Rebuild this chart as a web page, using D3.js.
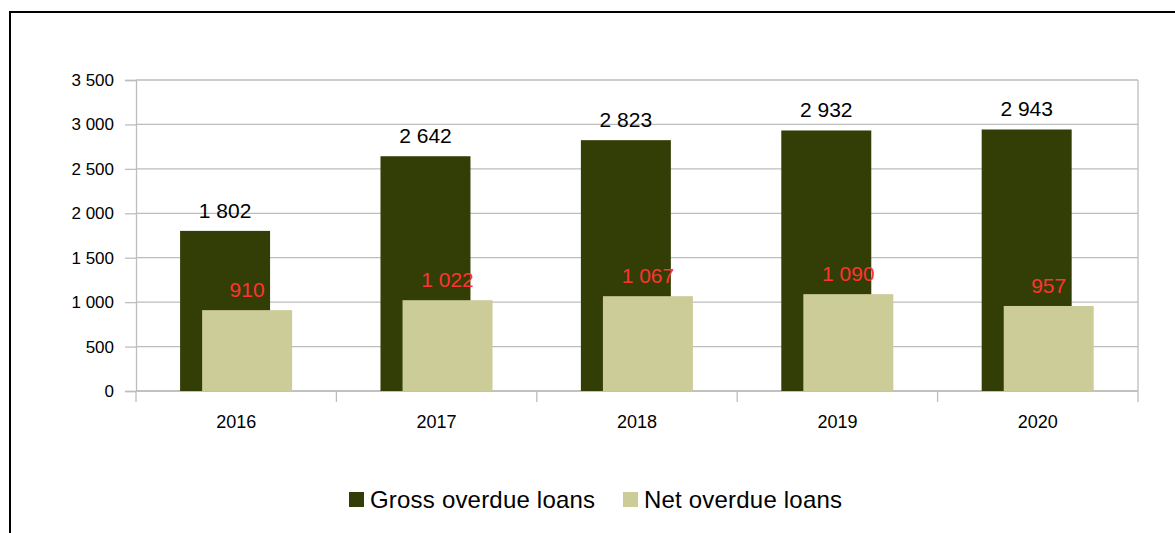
<!DOCTYPE html>
<html>
<head>
<meta charset="utf-8">
<script src="https://cdn.jsdelivr.net/npm/d3@7"></script>
<style>
  html, body { margin: 0; padding: 0; background: #fff; }
  svg { display: block; font-family: "Liberation Sans", Arial, sans-serif; }
</style>
</head>
<body>
<svg id="chart" width="1175" height="533"></svg>
<script>
// Overdue loans by year
const years = ["2016", "2017", "2018", "2019", "2020"];
const grossOverdue = [1802, 2642, 2823, 2932, 2943];
const netOverdue = [910, 1022, 1067, 1090, 957];
const seriesNames = ["Gross overdue loans", "Net overdue loans"];
const yTicks = [0, 500, 1000, 1500, 2000, 2500, 3000, 3500];

const colors = { gross: "#323e05", net: "#cccc99", netLabel: "#ff3333", grid: "#bdbdbd" };

const svg = d3.select("#chart");

// outer frame
svg.append("rect")
  .attr("x", 10).attr("y", 12)
  .attr("width", 1200).attr("height", 560)
  .attr("fill", "none").attr("stroke", "#000").attr("stroke-width", 2);

const plot = { left: 136, right: 1138, top: 80, bottom: 391 };

const x = d3.scaleBand().domain(years).range([plot.left, plot.right]).padding(0);
const y = d3.scaleLinear().domain([0, 3500]).range([plot.bottom, plot.top]);

const bw = x.bandwidth();
const barW = bw * 0.449;
const grossOff = bw * 0.22;
const netOff = bw * 0.33;

// horizontal gridlines
svg.append("g").selectAll("line").data(yTicks).join("line")
  .attr("x1", plot.left).attr("x2", plot.right)
  .attr("y1", d => y(d)).attr("y2", d => y(d))
  .attr("stroke", colors.grid).attr("stroke-width", 1.3);

// right border of plot area
svg.append("line")
  .attr("x1", plot.right).attr("x2", plot.right)
  .attr("y1", plot.top).attr("y2", plot.bottom)
  .attr("stroke", colors.grid).attr("stroke-width", 1.3);

// y axis
const yAxis = svg.append("g")
  .attr("transform", `translate(${plot.left},0)`)
  .call(d3.axisLeft(y).tickValues(yTicks).tickSize(11).tickPadding(11)
    .tickFormat(d => d3.format(",")(d).replace(/,/g, " ")));
yAxis.select(".domain").attr("stroke", colors.grid).attr("stroke-width", 1.3);
yAxis.selectAll(".tick line").attr("stroke", colors.grid).attr("stroke-width", 1.3);
yAxis.selectAll(".tick text").attr("font-size", 17).attr("fill", "#000")
  .attr("font-family", "Liberation Sans, Arial, sans-serif");

// x axis: ticks at category boundaries
const xAxisG = svg.append("g").attr("transform", `translate(0,${plot.bottom})`);
xAxisG.append("line")
  .attr("x1", plot.left).attr("x2", plot.right)
  .attr("stroke", colors.grid).attr("stroke-width", 1.3);
const boundaries = years.map(d => x(d)).concat([x(years[years.length - 1]) + bw]);
xAxisG.selectAll("line.tk").data(boundaries).join("line").attr("class", "tk")
  .attr("x1", d => d).attr("x2", d => d).attr("y1", 0).attr("y2", 11)
  .attr("stroke", colors.grid).attr("stroke-width", 1.3);
xAxisG.selectAll("text").data(years).join("text")
  .attr("x", d => x(d) + bw / 2).attr("y", 37)
  .attr("text-anchor", "middle").attr("font-size", 18).attr("fill", "#000")
  .text(d => d);

const fmt = v => d3.format(",")(v).replace(/,/g, " ");

// gross bars
svg.append("g").selectAll("rect").data(years).join("rect")
  .attr("x", (d) => x(d) + grossOff)
  .attr("y", (d, i) => y(grossOverdue[i]))
  .attr("width", barW)
  .attr("height", (d, i) => y(0) - y(grossOverdue[i]))
  .attr("fill", colors.gross);

// net bars
svg.append("g").selectAll("rect").data(years).join("rect")
  .attr("x", (d) => x(d) + netOff)
  .attr("y", (d, i) => y(netOverdue[i]))
  .attr("width", barW)
  .attr("height", (d, i) => y(0) - y(netOverdue[i]))
  .attr("fill", colors.net);

// value labels
svg.append("g").selectAll("text").data(years).join("text")
  .attr("x", d => x(d) + grossOff + barW / 2)
  .attr("y", (d, i) => y(grossOverdue[i]) - 13)
  .attr("text-anchor", "middle").attr("font-size", 21).attr("fill", "#000")
  .text((d, i) => fmt(grossOverdue[i]));

svg.append("g").selectAll("text").data(years).join("text")
  .attr("x", d => x(d) + netOff + barW / 2)
  .attr("y", (d, i) => y(netOverdue[i]) - 13)
  .attr("text-anchor", "middle").attr("font-size", 21).attr("fill", colors.netLabel)
  .text((d, i) => fmt(netOverdue[i]));

// legend
const legendItems = [
  { name: seriesNames[0], color: colors.gross, x: 349 },
  { name: seriesNames[1], color: colors.net, x: 623 }
];
const lg = svg.append("g");
legendItems.forEach(it => {
  lg.append("rect").attr("x", it.x).attr("y", 492).attr("width", 15).attr("height", 15)
    .attr("fill", it.color);
  lg.append("text").attr("x", it.x + 21).attr("y", 508)
    .attr("font-size", 24).attr("letter-spacing", 0.2).attr("fill", "#000")
    .text(it.name);
});
</script>
</body>
</html>
